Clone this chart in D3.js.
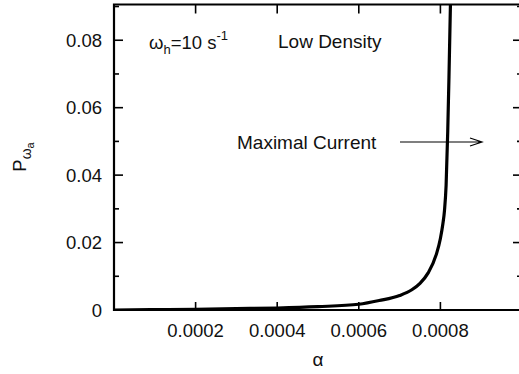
<!DOCTYPE html>
<meta charset="utf-8">
<script src="https://cdn.jsdelivr.net/npm/d3@7"></script>
<style>
body { margin: 0; background: #fff; }
text { font-family: "Liberation Sans", Arial, sans-serif; fill: #111; }
</style>
<body>
<script>

// data
var alpha = [0, 0.0001, 0.0002, 0.0003, 0.0004, 0.0005, 0.0006, 0.00065, 0.0007,
             0.00073, 0.00075, 0.00077, 0.00079, 0.0008, 0.000806, 0.00081,
             0.000814, 0.000818, 0.000821, 0.000825];
var prob  = [0, 0.0001, 0.0002, 0.0004, 0.0006, 0.001, 0.0017, 0.0028, 0.0043,
             0.006, 0.0079, 0.011, 0.0165, 0.0212, 0.0255, 0.0295,
             0.037, 0.053, 0.069, 0.093];
var xTicks = [0.0002, 0.0004, 0.0006, 0.0008];
var xTickLabels = ["0.0002", "0.0004", "0.0006", "0.0008"];
var yTicks = [0, 0.02, 0.04, 0.06, 0.08];
var yTickLabels = ["0", "0.02", "0.04", "0.06", "0.08"];
var yMinor = [0.01, 0.03, 0.05, 0.07, 0.09];

var width = 519, height = 374;
// plot box (right edge falls just outside the picture)
var pl = 114, pr = 522, pt = 4.5, pb = 310;

var x = d3.scaleLinear().domain([0, 0.001]).range([pl, pr]);
var y = d3.scaleLinear().domain([0, 0.0906]).range([pb, pt]);

var svg = d3.select("body").append("svg")
    .attr("width", width)
    .attr("height", height);

svg.append("defs").append("clipPath").attr("id", "clip")
  .append("rect")
    .attr("x", pl).attr("y", pt)
    .attr("width", pr - pl).attr("height", pb - pt);

// frame
svg.append("path")
    .attr("d", "M" + pr + "," + pt + "H" + pl + "V" + pb + "H" + pr + "V" + pt)
    .attr("fill", "none")
    .attr("stroke", "#000")
    .attr("stroke-width", 2.2);

// ticks, all pointing inward
var tickG = svg.append("g").attr("stroke", "#000").attr("stroke-width", 1.6);
xTicks.forEach(function(t) {
  tickG.append("line").attr("x1", x(t)).attr("x2", x(t)).attr("y1", pb).attr("y2", pb - 8);
  tickG.append("line").attr("x1", x(t)).attr("x2", x(t)).attr("y1", pt).attr("y2", pt + 9);
});
yTicks.forEach(function(t) {
  tickG.append("line").attr("x1", pl).attr("x2", pl + 9).attr("y1", y(t)).attr("y2", y(t));
  tickG.append("line").attr("x1", pr).attr("x2", pr - 9).attr("y1", y(t)).attr("y2", y(t));
});
yMinor.forEach(function(t) {
  tickG.append("line").attr("x1", pl).attr("x2", pl + 5).attr("y1", y(t)).attr("y2", y(t));
  tickG.append("line").attr("x1", pr).attr("x2", pr - 5).attr("y1", y(t)).attr("y2", y(t));
});

// tick labels
svg.append("g").selectAll("text")
    .data(xTicks)
    .enter().append("text")
    .attr("x", function(d) { return x(d); })
    .attr("y", 337)
    .attr("text-anchor", "middle")
    .style("font-size", "18.5px")
    .text(function(d, i) { return xTickLabels[i]; });

svg.append("g").selectAll("text")
    .data(yTicks)
    .enter().append("text")
    .attr("x", 102)
    .attr("y", function(d) { return y(d) + 6.5; })
    .attr("text-anchor", "end")
    .style("font-size", "18.5px")
    .text(function(d, i) { return yTickLabels[i]; });

// the curve
var line = d3.line()
    .x(function(d, i) { return x(alpha[i]); })
    .y(function(d) { return y(d); })
    .curve(d3.curveMonotoneX);

svg.append("path")
    .datum(prob)
    .attr("clip-path", "url(#clip)")
    .attr("d", line)
    .attr("fill", "none")
    .attr("stroke", "#000")
    .attr("stroke-width", 3.2);

// axis titles
svg.append("text")
    .attr("x", 318)
    .attr("y", 366)
    .attr("text-anchor", "middle")
    .style("font-size", "19px")
    .text("\u03b1");

var yl = svg.append("text")
    .attr("transform", "translate(26,157) rotate(-90)")
    .attr("text-anchor", "middle")
    .style("font-size", "18.5px");
yl.append("tspan").text("P");
yl.append("tspan").attr("dy", 5).style("font-size", "14px").text("\u03c9");
yl.append("tspan").attr("dy", 3).style("font-size", "11px").text("a");

// annotations
var om = svg.append("text")
    .attr("x", 149)
    .attr("y", 49)
    .style("font-size", "18.5px");
om.append("tspan").text("\u03c9");
om.append("tspan").attr("dy", 5).style("font-size", "13px").text("h");
om.append("tspan").attr("dy", -5).text("=10 s");
om.append("tspan").attr("dy", -9).style("font-size", "13px").text("-1");

svg.append("text")
    .attr("x", 278)
    .attr("y", 48)
    .style("font-size", "19px")
    .text("Low Density");

svg.append("text")
    .attr("x", 237)
    .attr("y", 149)
    .style("font-size", "19px")
    .text("Maximal Current");

svg.append("path")
    .attr("d", "M400,142H482M470,138L482,142L470,146")
    .attr("fill", "none")
    .attr("stroke", "#000")
    .attr("stroke-width", 1.2);

</script>
</body>
</html>
